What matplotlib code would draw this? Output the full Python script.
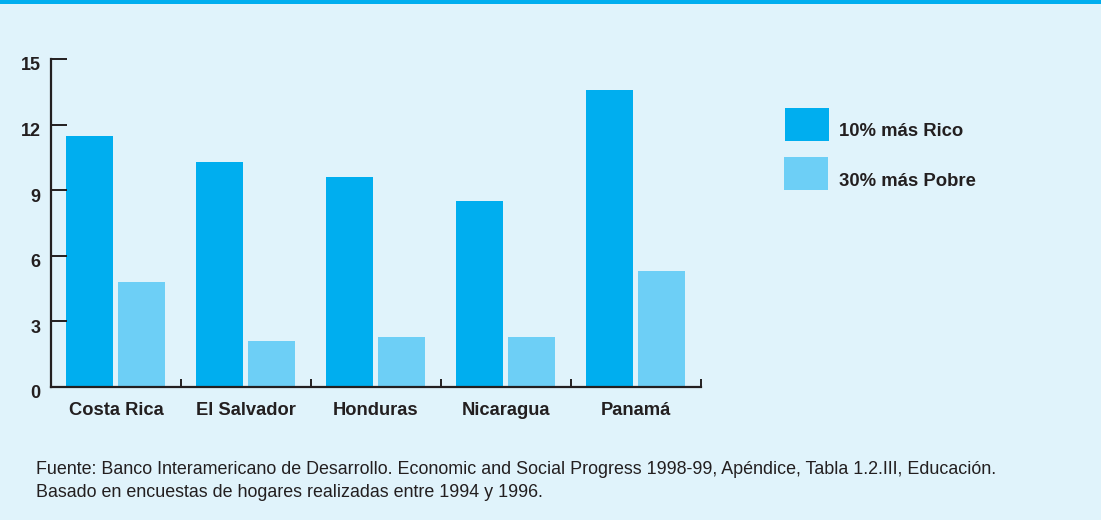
import matplotlib
matplotlib.use("Agg")
import matplotlib.pyplot as plt
from matplotlib.patches import Rectangle
import matplotlib.transforms as mtransforms
import numpy as np

categories = ["Costa Rica", "El Salvador", "Honduras", "Nicaragua", "Panamá"]
rico = [11.5, 10.3, 9.6, 8.5, 13.6]
pobre = [4.8, 2.1, 2.3, 2.3, 5.3]
series_labels = ["10% más Rico", "30% más Pobre"]
yticks = [0, 3, 6, 9, 12, 15]
footnote = ("Fuente: Banco Interamericano de Desarrollo. Economic and Social Progress 1998-99, Apéndice, Tabla 1.2.III, Educación.\n"
            "Basado en encuestas de hogares realizadas entre 1994 y 1996.")

BG = "#E0F3FB"
DARK = "#00AEEF"
LIGHT = "#6DCFF6"
INK = "#231F20"

plt.rcParams['font.family'] = ['Liberation Sans', 'DejaVu Sans']

W, H = 1101, 520
fig = plt.figure(figsize=(W/100, H/100), dpi=100)
fig.patch.set_facecolor(BG)
fig.add_artist(Rectangle((0, 1 - 4/H), 1, 4/H, transform=fig.transFigure, color=DARK, lw=0))

ax = fig.add_axes([51/W, 133/H, 650/W, 328/H])
ax.set_facecolor(BG)

x = np.arange(len(categories))
bw = 47/130
off = 15/130
gap = 5/130
ax.bar(x + off, rico, width=bw, align='edge', color=DARK, label=series_labels[0])
ax.bar(x + off + bw + gap, pobre, width=bw, align='edge', color=LIGHT, label=series_labels[1])

ax.set_xlim(0, len(categories))
ax.set_ylim(0, 15)

for s in ['top', 'right']:
    ax.spines[s].set_visible(False)
for s in ['left', 'bottom']:
    ax.spines[s].set_color(INK)
    ax.spines[s].set_linewidth(1.6)

ax.set_yticks(yticks)
ax.set_yticklabels([str(t) for t in yticks], fontsize=13, fontweight='bold', color=INK)
ax.tick_params(axis='y', direction='in', length=11.5, width=1.4, color=INK, pad=7.5)
shift = mtransforms.ScaledTranslation(0, -5/100, fig.dpi_scale_trans)
for lab in ax.get_yticklabels():
    lab.set_transform(lab.get_transform() + shift)

ax.set_xticks(np.arange(1, len(categories) + 1))
ax.set_xticklabels([])
ax.tick_params(axis='x', direction='in', length=6, width=1.4, color=INK)
for i, c in enumerate(categories):
    ax.text(i + 0.5, -0.68, c, ha='center', va='top', fontsize=13.2, fontweight='bold', color=INK)

# legend
fig.add_artist(Rectangle((785/W, 1 - 141/H), 44/W, 33/H, transform=fig.transFigure, color=DARK, lw=0))
fig.add_artist(Rectangle((784/W, 1 - 190/H), 44/W, 33/H, transform=fig.transFigure, color=LIGHT, lw=0))
fig.text(839/W, 1 - 131.5/H, series_labels[0], ha='left', va='center', fontsize=13.3, fontweight='bold', color=INK)
fig.text(839/W, 1 - 181.5/H, series_labels[1], ha='left', va='center', fontsize=13.3, fontweight='bold', color=INK)

fig.text(36/W, 1 - 461/H, footnote, ha='left', va='top', fontsize=12.85, color=INK, linespacing=1.45)

fig.savefig("out.png", dpi=100, facecolor=BG)
